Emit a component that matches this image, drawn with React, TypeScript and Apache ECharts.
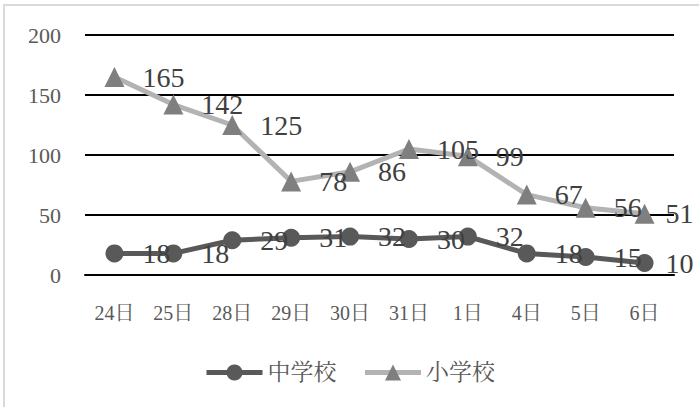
import React, { useEffect, useRef } from "react";
import * as echarts from "echarts";

const categories = ["24日", "25日", "28日", "29日", "30日", "31日", "1日", "4日", "5日", "6日"];
const juniorHigh = [18, 18, 29, 31, 32, 30, 32, 18, 15, 10];
const elementary = [165, 142, 125, 78, 86, 105, 99, 67, 56, 51];
const seriesNames = ["中学校", "小学校"];

const FONT = "'Liberation Serif', 'Noto Serif CJK JP', 'Noto Sans CJK JP', serif";

function withLastLabelPulled(values: number[], dist: number) {
  return values.map((v, i) =>
    i === values.length - 1 ? { value: v, label: { distance: dist } } : v
  );
}

export default function App() {
  const ref = useRef<HTMLDivElement>(null);
  useEffect(() => {
    if (!ref.current) return;
    const chart = echarts.init(ref.current, undefined, { renderer: "svg" });
    chart.setOption({
      animation: false,
      backgroundColor: "#ffffff",
      textStyle: { fontFamily: FONT },
      graphic: [
        {
          type: "rect",
          shape: { x: 4, y: 5, width: 720, height: 430 },
          style: { fill: "none", stroke: "#d9d9d9", lineWidth: 2 },
          silent: true,
        },
      ],
      grid: { left: 85, right: 25, top: 35, bottom: 132 },
      legend: {
        data: seriesNames,
        bottom: 18,
        left: "center",
        itemWidth: 56,
        itemHeight: 20,
        itemGap: 26,
        lineStyle: { width: 5 },
        textStyle: { fontFamily: FONT, fontSize: 23, color: "#595959" },
      },
      xAxis: {
        type: "category",
        data: categories,
        boundaryGap: true,
        axisLine: { show: true, lineStyle: { color: "#000000", width: 2 } },
        axisTick: { show: false },
        axisLabel: { fontFamily: FONT, fontSize: 20, color: "#595959", margin: 28 },
      },
      yAxis: {
        type: "value",
        min: 0,
        max: 200,
        interval: 50,
        axisLine: { show: false },
        axisTick: { show: false },
        splitLine: { lineStyle: { color: "#000000", width: 2 } },
        axisLabel: { fontFamily: FONT, fontSize: 22, color: "#595959", margin: 24 },
      },
      series: [
        {
          name: seriesNames[0],
          type: "line",
          data: withLastLabelPulled(juniorHigh, 12),
          symbol: "circle",
          symbolSize: 18,
          lineStyle: { color: "#595959", width: 5 },
          itemStyle: { color: "#595959" },
          label: {
            show: true,
            position: "right",
            distance: 19,
            fontFamily: FONT,
            fontSize: 28,
            color: "#404040",
          },
          z: 3,
        },
        {
          name: seriesNames[1],
          type: "line",
          data: withLastLabelPulled(elementary, 11),
          symbol: "triangle",
          symbolSize: 20,
          lineStyle: { color: "#b3b3b3", width: 5 },
          itemStyle: { color: "#7f7f7f" },
          label: {
            show: true,
            position: "right",
            distance: 18,
            fontFamily: FONT,
            fontSize: 28,
            color: "#404040",
          },
          z: 2,
        },
      ],
    });
    return () => chart.dispose();
  }, []);
  return (
    <div
      ref={ref}
      style={{ position: "fixed", left: 0, top: 0, width: 699, height: 407, background: "#fff" }}
    />
  );
}
